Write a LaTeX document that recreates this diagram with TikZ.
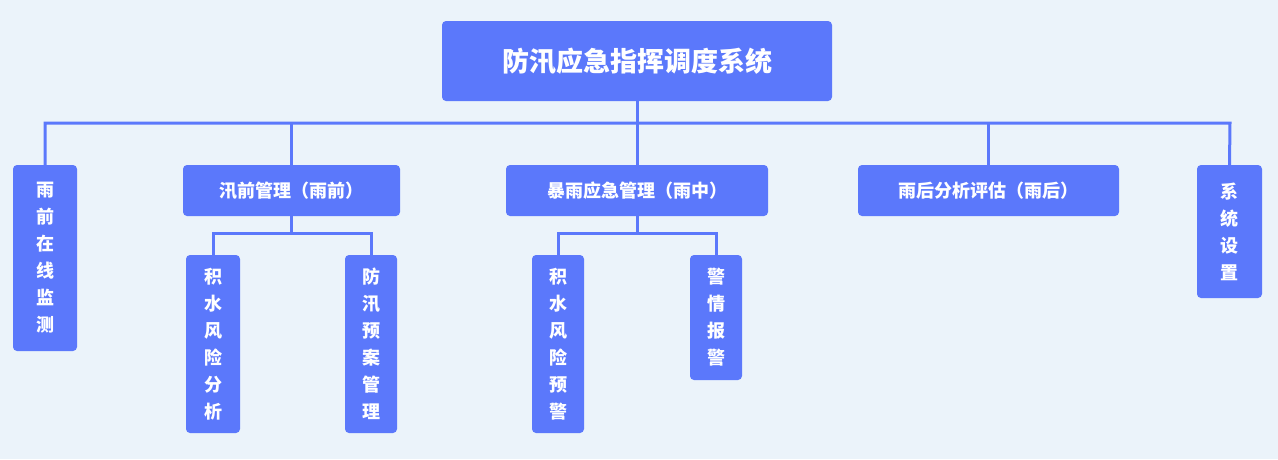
\documentclass[tikz,border=0pt]{standalone}
\usepackage{fontspec}
\newfontfamily\cjk{Noto Sans CJK SC}
\definecolor{bg}{HTML}{EBF3FA}
\definecolor{boxc}{HTML}{5B78FB}
\tikzset{
  box/.style={fill=boxc,rounded corners=4pt,text=white,font=\cjk\bfseries\fontsize{18}{27}\selectfont,inner sep=0pt,align=center},
  link/.style={draw=boxc,line width=3pt}
}
\begin{document}
\begin{tikzpicture}[x=1pt,y=-1pt]
	\fill[bg] (0,0) rectangle (1278,459);
	\useasboundingbox (0,0) rectangle (1278,459);
	% top level
	\node[box,minimum width=390pt,minimum height=80pt,font=\cjk\bfseries\fontsize{27}{30}\selectfont] (root) at (637,61) {防汛应急指挥调度系统};
	\node[box,minimum width=64pt,minimum height=186pt] (pre) at (45,258) {雨\\前\\在\\线\\监\\测};
	\node[box,minimum width=217pt,minimum height=51pt] (flood) at (291.5,190.5) {汛前管理（雨前）};
	\node[box,minimum width=262pt,minimum height=51pt] (storm) at (637,190.5) {暴雨应急管理（雨中）};
	\node[box,minimum width=261pt,minimum height=51pt] (after) at (988.5,190.5) {雨后分析评估（雨后）};
	\node[box,minimum width=65pt,minimum height=133pt] (sys) at (1229.5,231.5) {系\\统\\设\\置};
	% second level
	\node[box,minimum width=54pt,minimum height=178pt] (risk) at (213,344) {积\\水\\风\\险\\分\\析};
	\node[box,minimum width=52pt,minimum height=178pt] (plan) at (371,344) {防\\汛\\预\\案\\管\\理};
	\node[box,minimum width=52pt,minimum height=178pt] (warn) at (558,344) {积\\水\\风\\险\\预\\警};
	\node[box,minimum width=52pt,minimum height=125pt] (alarm) at (716,317.5) {警\\情\\报\\警};
	% connectors
	\coordinate (busl) at (45,123);
	\coordinate (busr) at (1230,123);
	\draw[link] (root.south) -- (root.south |- busl);
	\draw[link] (pre.north) -- (busl) -- (busr) -- (sys.north);
	\foreach \n in {flood,storm,after}
		\draw[link] (\n.north) -- (\n.north |- busl);
	\draw[link] (flood.south) -- ++(0,17) -| (risk.north);
	\draw[link] (flood.south) -- ++(0,17) -| (plan.north);
	\draw[link] (storm.south) -- ++(0,17) -| (warn.north);
	\draw[link] (storm.south) -- ++(0,17) -| (alarm.north);
\end{tikzpicture}
\end{document}
